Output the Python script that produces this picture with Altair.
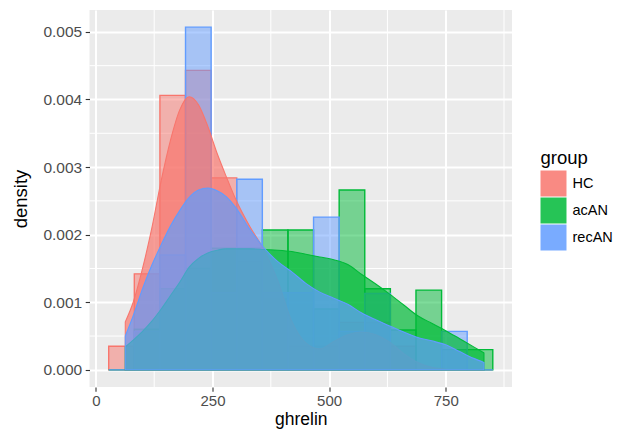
import altair as alt
import pandas as pd

groups = ["HC", "acAN", "recAN"]
colors = ["#F8766D", "#00BA38", "#619CFF"]

# histogram bin edges (ghrelin) and per-group densities
bin_edges = [27.45, 82.35, 137.25, 192.15, 247.05, 301.95, 356.85, 411.75,
             466.65, 521.55, 576.45, 631.35, 686.25, 741.15, 796.05, 850.95]
hist_HC = [0.00035, 0.00142, 0.00406, 0.00443, 0.00284, 0.00160, 0.00105, 0.00035,
           0.00035, 0.00070, 0.00070, 0.00035, 0.0, 0.0, 0.0]
hist_acAN = [0.0, 0.00060, 0.00120, 0.00150, 0.00180, 0.00180, 0.00207, 0.00207,
             0.00090, 0.00266, 0.00120, 0.00059, 0.00118, 0.00030, 0.00030]
hist_recAN = [0.0, 0.00057, 0.00170, 0.00507, 0.00114, 0.00282, 0.00114, 0.00114,
              0.00226, 0.00057, 0.00113, 0.0, 0.0, 0.00057, 0.0]

# density curves
dens_x = [63, 80, 100, 120, 140, 160, 180, 200, 220, 240, 260, 280, 300, 330, 360,
          390, 420, 450, 480, 510, 540, 570, 600, 630, 660, 690, 720, 750, 780, 810, 832]
dens_HC = [0.00071, 0.00100, 0.00150, 0.00210, 0.00280, 0.00340, 0.00385, 0.00404,
           0.00392, 0.00360, 0.00320, 0.00285, 0.00252, 0.00212, 0.00178, 0.00132,
           0.00072, 0.00040, 0.00031, 0.00042, 0.00052, 0.00056, 0.00052, 0.00041,
           0.00024, 0.00011, 0.00004, 0.00001, 0.0, 0.0, 0.0]
dens_acAN = [0.00034, 0.00044, 0.00057, 0.00072, 0.00090, 0.00110, 0.00130, 0.00152,
             0.00165, 0.00173, 0.00177, 0.00179, 0.00179, 0.00179, 0.00178, 0.00177,
             0.00175, 0.00171, 0.00167, 0.00163, 0.00156, 0.00141, 0.00127, 0.00112,
             0.00096, 0.00080, 0.00069, 0.00058, 0.00046, 0.00034, 0.00025]
dens_recAN = [0.00050, 0.00080, 0.00120, 0.00155, 0.00185, 0.00213, 0.00236, 0.00255,
              0.00266, 0.00269, 0.00265, 0.00256, 0.00240, 0.00208, 0.00181, 0.00160,
              0.00145, 0.00128, 0.00115, 0.00106, 0.00097, 0.00084, 0.00074, 0.00065,
              0.00056, 0.00048, 0.00043, 0.00037, 0.00027, 0.00017, 0.00011]

x_major = [0, 250, 500, 750]
x_minor = [125, 375, 625, 875]
y_major = [0.0, 0.001, 0.002, 0.003, 0.004, 0.005]
y_minor = [0.0005, 0.0015, 0.0025, 0.0035, 0.0045]

# ---- tables ----
hist_rows = []
for g, vals in zip(groups, [hist_HC, hist_acAN, hist_recAN]):
    for i, v in enumerate(vals):
        hist_rows.append({"group": g, "xmin": bin_edges[i], "xmax": bin_edges[i + 1], "density": v})
hist_df = pd.DataFrame(hist_rows)

dens_tables = {}
for g, vals in zip(groups, [dens_HC, dens_acAN, dens_recAN]):
    dens_tables[g] = pd.DataFrame({"group": g, "ghrelin": dens_x, "density": vals})

# ggplot-like 5% expansion
x_span = bin_edges[-1] - bin_edges[0]
x_dom = [bin_edges[0] - 0.05 * x_span, bin_edges[-1] + 0.05 * x_span]
y_top = max(hist_HC + hist_acAN + hist_recAN + dens_HC + dens_acAN + dens_recAN)
y_dom = [-0.05 * y_top, 1.05 * y_top]

xs = alt.Scale(domain=x_dom, nice=False, zero=False)
ys = alt.Scale(domain=y_dom, nice=False, zero=False)
cs = alt.Scale(domain=groups, range=colors)

FONT = "Liberation Sans"

x_axis = alt.Axis(values=x_major, grid=True, gridColor="white", gridWidth=2.0,
                  domain=False, ticks=True, tickColor="#333333", tickSize=4.3, tickWidth=1.1,
                  labelColor="#4D4D4D", labelFontSize=15, labelPadding=2, labelFont=FONT,
                  title="ghrelin", titleFontSize=17.5, titleFontWeight="normal", titleColor="black",
                  titleFont=FONT, titleY=37.5, titleBaseline="alphabetic")
y_axis = alt.Axis(values=y_major, format=".3f", grid=True, gridColor="white", gridWidth=2.0,
                  domain=False, ticks=True, tickColor="#333333", tickSize=4.3, tickWidth=1.1,
                  labelColor="#4D4D4D", labelFontSize=15.5, labelPadding=3.5, labelFont=FONT,
                  title="density", titleFontSize=18.5, titleFontWeight="normal", titleColor="black",
                  titleFont=FONT, titleX=-69, titleBaseline="middle")

legend = alt.Legend(title="group", orient="none", legendX=451, legendY=139,
                    symbolType="square", symbolSize=676, symbolStrokeWidth=0, symbolOpacity=0.85,
                    titleFontSize=18.5, titleFontWeight="normal", titleColor="black", titleFont=FONT,
                    labelFontSize=14.5, labelColor="black", labelFont=FONT, labelOffset=6,
                    rowPadding=1, titlePadding=3)

minor_x = alt.Chart(pd.DataFrame({"v": x_minor})).mark_rule(color="white", strokeWidth=1.0).encode(
    x=alt.X("v:Q", scale=xs, axis=x_axis))
minor_y = alt.Chart(pd.DataFrame({"v": y_minor})).mark_rule(color="white", strokeWidth=1.0).encode(
    y=alt.Y("v:Q", scale=ys, axis=y_axis))

bars = alt.Chart(hist_df).mark_rect(fillOpacity=0.5, strokeOpacity=1, strokeWidth=1.4).encode(
    x=alt.X("xmin:Q", scale=xs, axis=x_axis),
    x2="xmax:Q",
    y=alt.Y("density:Q", scale=ys, axis=y_axis),
    y2=alt.datum(0),
    color=alt.Color("group:N", scale=cs, legend=legend),
    stroke=alt.Stroke("group:N", scale=cs, legend=None),
)

areas = []
for g in groups:
    areas.append(
        alt.Chart(dens_tables[g]).mark_area(fillOpacity=0.7, strokeWidth=1.1, interpolate="monotone").encode(
            x=alt.X("ghrelin:Q", scale=xs, axis=x_axis),
            y=alt.Y("density:Q", scale=ys, axis=y_axis, stack=None),
            y2=alt.datum(0),
            color=alt.Color("group:N", scale=cs, legend=legend),
            stroke=alt.Stroke("group:N", scale=cs, legend=None),
        )
    )

chart = alt.layer(minor_x, minor_y, bars, *areas).properties(
    width=422.5, height=377,
    padding={"left": 81.5, "top": 2, "right": 101, "bottom": 42},
    autosize=alt.AutoSizeParams(type="none"),
    background="white",
).configure(font=FONT).configure_view(fill="#EBEBEB", stroke=None)

chart.save("out.html", embed_options={"renderer": "svg", "actions": False})
